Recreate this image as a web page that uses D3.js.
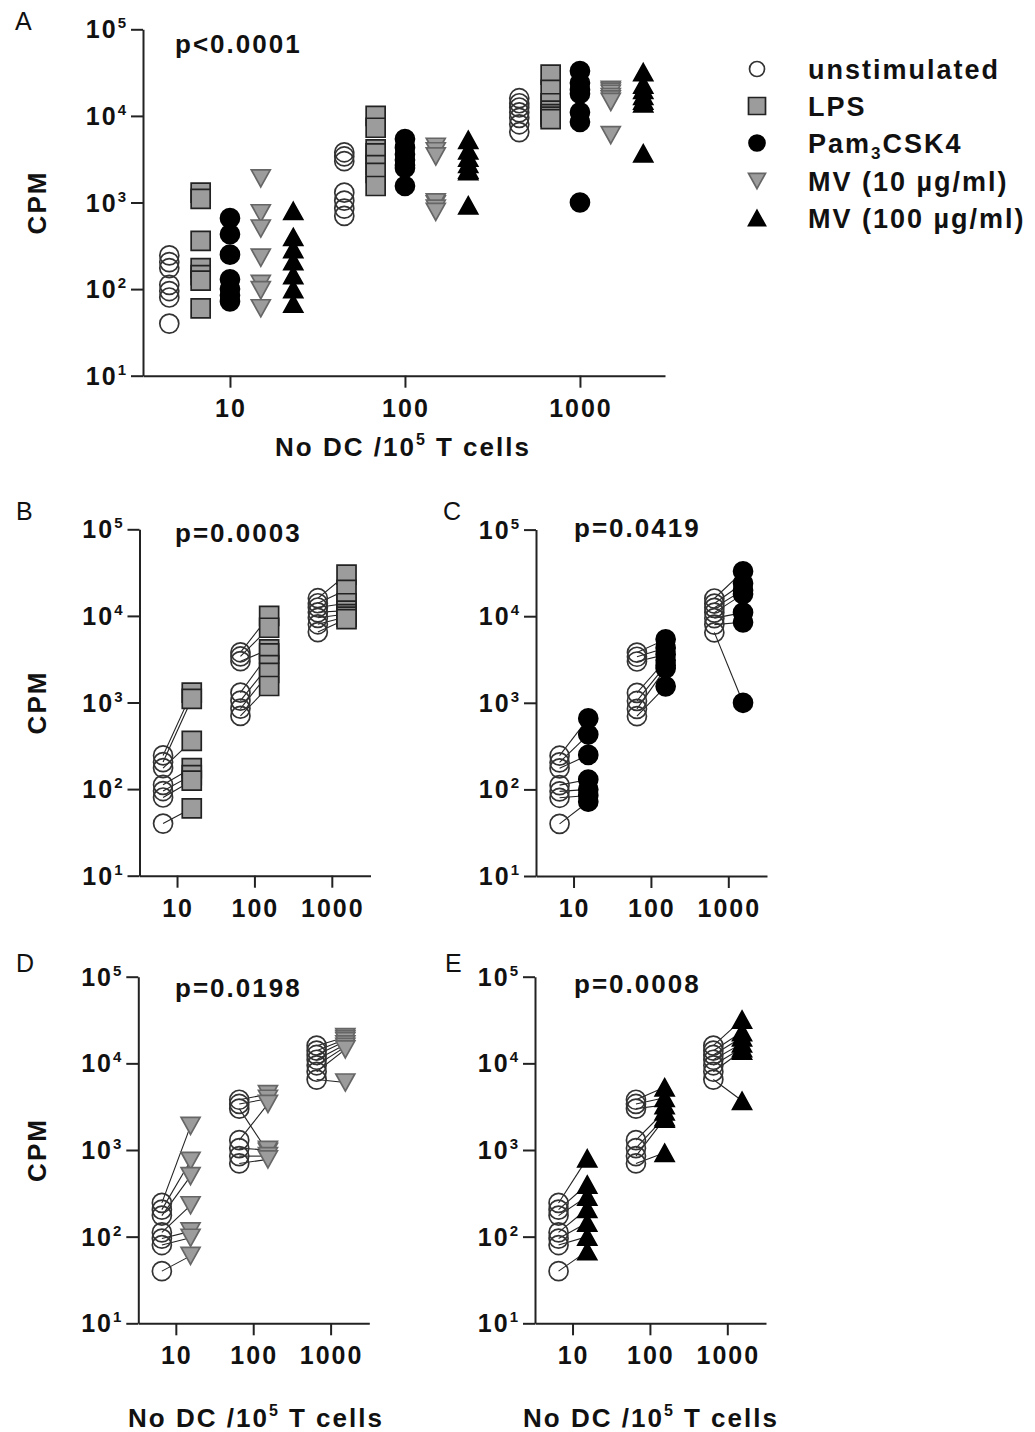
<!DOCTYPE html>
<html>
<head>
<meta charset="utf-8">
<script src="https://cdn.jsdelivr.net/npm/d3@7"></script>
<style>
  body { margin: 0; background: #fff; }
  svg text { font-family: "Liberation Sans", Arial, sans-serif; font-weight: bold; fill: #111; letter-spacing: 2px; }
</style>
</head>
<body>
<svg width="1035" height="1432"></svg>
<script>
// DC doses per 10^5 T cells and the y tick decades
var doses = [10, 100, 1000];
var yTicks = [10, 100, 1000, 10000, 100000];
var yExps = ["1", "2", "3", "4", "5"];

// CPM per donor, one row per dose (10, 100, 1000); same index = same donor
var unstim = [
    [245, 205, 175, 112, 95, 80, 40],
    [3800, 3400, 3000, 1300, 1050, 850, 700],
    [16000, 14000, 12500, 11000, 9500, 8000, 6500]
];
var lps = [
    [1300, 1100, 360, 175, 145, 125, 60],
    [10000, 7300, 4100, 3700, 2700, 2200, 1550],
    [30000, 20000, 14000, 11500, 10500, 9800, 9200]
];
var pam = [
    [660, 430, 250, 130, 100, 85, 72],
    [5400, 4300, 3600, 3100, 2700, 2500, 1550],
    [33000, 24000, 20000, 18000, 11000, 8500, 1000]
];
var mv10 = [
    [1900, 750, 500, 230, 115, 97, 60],
    [4400, 3900, 950, 3400, 1000, 850, 780],
    [20000, 19000, 18000, 16500, 15500, 14500, 6000]
];
var mv100 = [
    [800, 400, 290, 210, 145, 100, 68],
    [5300, 4000, 3300, 2800, 2400, 2300, 930],
    [32000, 23000, 20000, 17000, 15000, 14000, 3700]
];

var seriesData = [unstim, lps, pam, mv10, mv100];
var pLabels = ["p<0.0001", "p=0.0003", "p=0.0419", "p=0.0198", "p=0.0008"];

// marker look for each series
var styles = [
    { shape: 'circle', fill: 'none', stroke: '#333' },
    { shape: 'square', fill: '#9c9c9c', stroke: '#222' },
    { shape: 'circle', fill: '#000', stroke: '#000' },
    { shape: 'down', fill: '#9c9c9c', stroke: '#666' },
    { shape: 'up', fill: '#000', stroke: '#000' }
];

var svg = d3.select('svg');

// path for a marker of width s centred at 0,0
function markerPath(shape, s) {
    var h = s / 2, t = s * 0.9 / 2;
    if (shape == 'circle') {
        return 'M' + (-h) + ',0A' + h + ',' + h + ' 0 1,0 ' + h + ',0A' + h + ',' + h + ' 0 1,0 ' + (-h) + ',0Z';
    }
    if (shape == 'square') {
        return 'M' + (-h) + ',' + (-h) + 'H' + h + 'V' + h + 'H' + (-h) + 'Z';
    }
    if (shape == 'up') {
        return 'M0,' + (-t) + 'L' + h + ',' + t + 'L' + (-h) + ',' + t + 'Z';
    }
    return 'M0,' + t + 'L' + h + ',' + (-t) + 'L' + (-h) + ',' + (-t) + 'Z';
}

function drawMarker(g, si, x, y, s) {
    var st = styles[si];
    g.append('path')
        .attr('d', markerPath(st.shape, s))
        .attr('transform', 'translate(' + x + ',' + y + ')')
        .style('fill', st.fill)
        .style('stroke', st.stroke)
        .style('stroke-width', 1.7);
}

// "10" with a raised exponent
function powerLabel(g, x, y, exp, anchor) {
    var t = g.append('text')
        .attr('x', x).attr('y', y)
        .style('font-size', '25px')
        .style('text-anchor', anchor);
    t.append('tspan').text('10');
    t.append('tspan').attr('dy', -10).style('font-size', '15px').text(exp);
    return t;
}

function xTitle(g, cx, y) {
    var t = g.append('text')
        .attr('x', cx).attr('y', y)
        .style('font-size', '26px')
        .style('text-anchor', 'middle');
    t.append('tspan').text('No DC /10');
    t.append('tspan').attr('dy', -11).style('font-size', '16px').text('5');
    t.append('tspan').attr('dy', 11).text(' T cells');
}

// axes, ticks labels, CPM and p value for one panel
function drawFrame(p) {
    var g = svg.append('g');
    var yAxis = d3.axisLeft(p.y).tickValues(yTicks).tickFormat('').tickSize(12).tickSizeOuter(0);
    var xAxis = d3.axisBottom(p.x).tickValues(doses).tickFormat('').tickSize(12).tickSizeOuter(0);
    g.append('g').attr('transform', 'translate(' + p.left + ',0)').call(yAxis);
    g.append('g').attr('transform', 'translate(0,' + p.bottom + ')').call(xAxis);
    g.selectAll('.domain, .tick line').style('stroke', '#222').style('stroke-width', 2);

    yTicks.forEach(function(v, i) {
        powerLabel(g, p.left - 15, p.y(v) + 9, yExps[i], 'end');
    });
    doses.forEach(function(d) {
        g.append('text')
            .attr('x', p.x(d) + 1).attr('y', p.bottom + 41)
            .style('font-size', '25px')
            .style('text-anchor', 'middle')
            .text(d);
    });
    if (p.cpm) {
        g.append('text')
            .attr('transform', 'translate(46,' + (p.bottom + p.top) / 2 + ') rotate(-90)')
            .style('font-size', '26px')
            .style('text-anchor', 'middle')
            .text('CPM');
    }
    g.append('text')
        .attr('x', p.pX).attr('y', p.pY)
        .style('font-size', '26px')
        .text(pLabels[p.index]);
    g.append('text')
        .attr('x', p.letterX).attr('y', p.letterY)
        .style('font-size', '25px')
        .style('font-weight', 'normal')
        .style('letter-spacing', '0px')
        .text(p.letter);
    return g;
}

// ---- panel A: all five conditions side by side ----
var panelA = {
    index: 0, letter: 'A', letterX: 15, letterY: 30, left: 143, right: 665, top: 29.3, bottom: 375.7,
    pX: 175, pY: 53, cpm: true
};
panelA.x = d3.scaleLog().domain([Math.pow(10, 0.503), Math.pow(10, 3.486)]).range([panelA.left, panelA.right]);
panelA.y = d3.scaleLog().domain([10, 100000]).range([panelA.bottom, panelA.top]);
var gA = drawFrame(panelA);
xTitle(gA, 403, 456);

var dodgeA = [0.45, 0.68, 1, 1.5, 2.3];
seriesData.forEach(function(series, si) {
    series.forEach(function(vals, di) {
        vals.forEach(function(v) {
            drawMarker(gA, si, panelA.x(doses[di] * dodgeA[si]), panelA.y(v), 19);
        });
    });
});

// legend
var legendY = [69, 106, 143, 181, 218];
var legendSize = [15, 17, 16, 17, 17];
styles.forEach(function(st, i) {
    drawMarker(gA, i, 757, legendY[i], legendSize[i]);
});
function legendText(y) {
    return gA.append('text').attr('x', 808).attr('y', y + 10).style('font-size', '27px');
}
legendText(legendY[0]).text('unstimulated');
legendText(legendY[1]).text('LPS');
var pamText = legendText(legendY[2]);
pamText.append('tspan').text('Pam');
pamText.append('tspan').attr('dy', 6).style('font-size', '17px').text('3');
pamText.append('tspan').attr('dy', -6).text('CSK4');
legendText(legendY[3]).text('MV (10 \u00b5g/ml)');
legendText(legendY[4]).text('MV (100 \u00b5g/ml)');

// ---- panels B-E: unstimulated paired with one condition ----
var pairPanels = [
    { index: 1, letter: 'B', letterX: 16, letterY: 520, series: 1, left: 139.5, top: 529.3, bottom: 875.7, pX: 175, pY: 542, cpm: true },
    { index: 2, letter: 'C', letterX: 443, letterY: 520, series: 2, left: 536, top: 529.6, bottom: 876, pX: 574, pY: 537, cpm: false },
    { index: 3, letter: 'D', letterX: 16, letterY: 972, series: 3, left: 138.3, top: 976.7, bottom: 1323.3, pX: 175, pY: 997, cpm: true },
    { index: 4, letter: 'E', letterX: 445, letterY: 972, series: 4, left: 535, top: 976.7, bottom: 1323.3, pX: 574, pY: 993, cpm: false }
];
var dodgePair = [0.66, 1.55];

pairPanels.forEach(function(p) {
    p.x = d3.scaleLog().domain([Math.pow(10, 0.515), Math.pow(10, 3.5)]).range([p.left, p.left + 231]);
    p.y = d3.scaleLog().domain([10, 100000]).range([p.bottom, p.top]);
    var g = drawFrame(p);
    var treat = seriesData[p.series];

    doses.forEach(function(d, di) {
        var x0 = p.x(d * dodgePair[0]), x1 = p.x(d * dodgePair[1]);
        unstim[di].forEach(function(v, k) {
            g.append('line')
                .attr('x1', x0).attr('y1', p.y(v))
                .attr('x2', x1).attr('y2', p.y(treat[di][k]))
                .style('stroke', '#222')
                .style('stroke-width', 1.1);
        });
        unstim[di].forEach(function(v) {
            drawMarker(g, 0, x0, p.y(v), 19);
        });
        treat[di].forEach(function(v) {
            drawMarker(g, p.series, x1, p.y(v), 19);
        });
    });
});

xTitle(svg, 256, 1427);
xTitle(svg, 651, 1427);
</script>
</body>
</html>
